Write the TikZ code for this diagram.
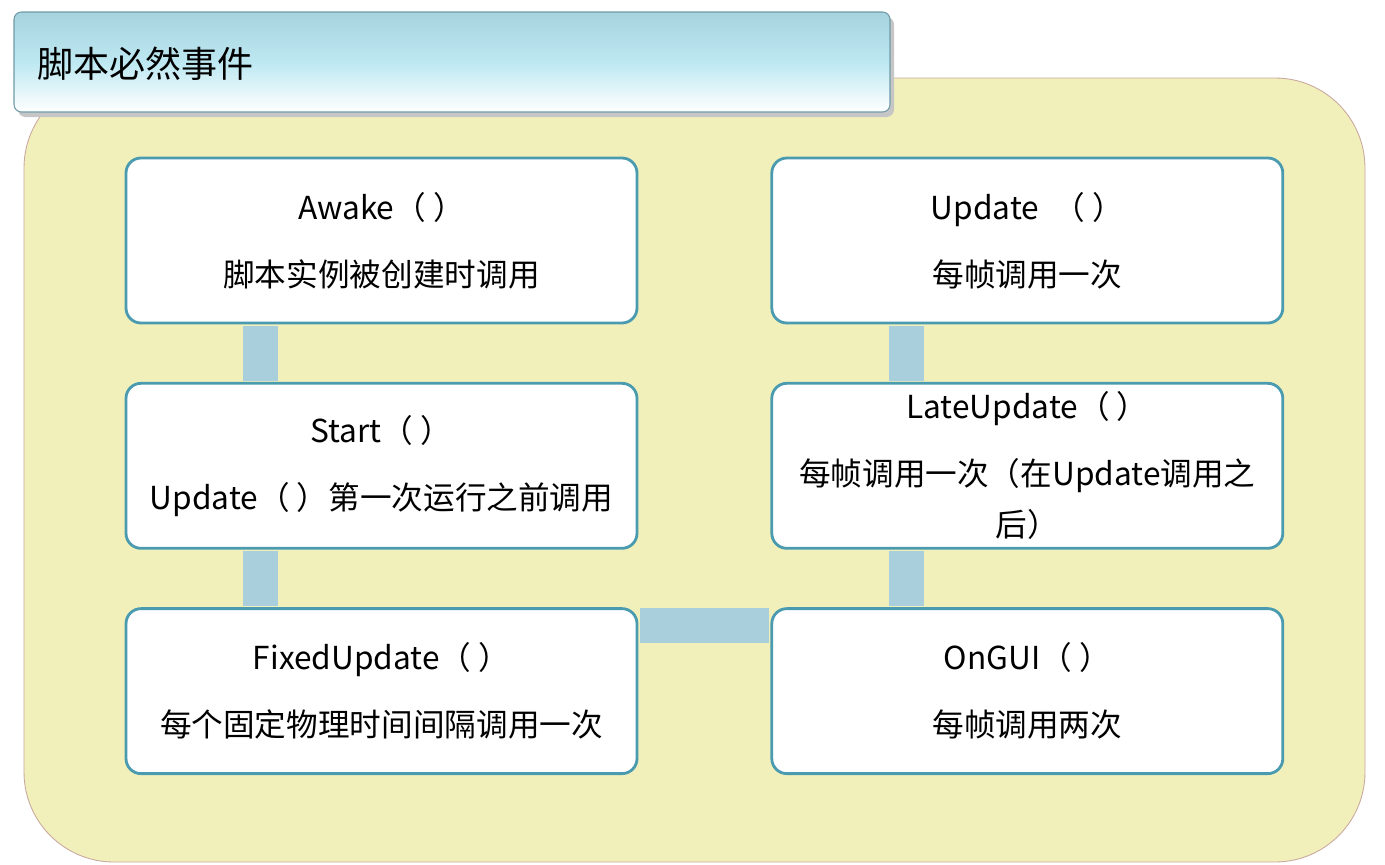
\documentclass[tikz,border=0pt]{standalone}
\usepackage{fontspec}
\setmainfont{Noto Sans CJK SC}
\usetikzlibrary{positioning}

\definecolor{panelyellow}{HTML}{F1F0BB}
\definecolor{paneledge}{HTML}{C9A9A0}
\definecolor{boxedge}{HTML}{4A9BB0}
\definecolor{linkblue}{HTML}{A9CFDC}
\definecolor{titletop}{HTML}{A6D3DE}
\definecolor{titlemid}{HTML}{BDE8F2}
\definecolor{titleedge}{HTML}{6E9AA6}

\begin{document}
\begin{tikzpicture}[
    node distance=1.15cm and 2.64cm,
    box/.style={draw=boxedge, line width=1.6pt, fill=white, rectangle, rounded corners=0.3cm, minimum width=10.22cm, minimum height=3.3cm, align=center, font=\fontsize{18}{29}\selectfont},
    link/.style={linkblue, line width=0.7cm, shorten <=0.8pt, shorten >=0.8pt}
]
\useasboundingbox (0,0) rectangle (27.7,-17.28);

% Background panel and title bar
\fill[panelyellow, draw=paneledge, line width=0.5pt, rounded corners=1.8cm] (0.48,-1.56) rectangle (27.3,-17.24);
\fill[gray!45, rounded corners=0.15cm] (0.36,-0.34) rectangle (17.88,-2.34);
\shade[top color=titletop, bottom color=white, middle color=titlemid, draw=titleedge, line width=0.6pt, rounded corners=0.15cm] (0.28,-0.24) rectangle (17.8,-2.24);
\node[anchor=west, font=\fontsize{20.5}{24}\selectfont] (title) at (0.62,-1.28) {脚本必然事件};

% Nodes
\node[box] (awake) at (7.63,-4.81) {Awake（ ）\\[9pt]脚本实例被创建时调用};
\node[box, below=of awake] (start) {Start（ ）\\[9pt]Update（ ）第一次运行之前调用};
\node[box, below=of start] (fixed) {FixedUpdate（ ）\\[9pt]每个固定物理时间间隔调用一次};
\node[box, right=of awake] (update) {Update \ （ ）\\[9pt]每帧调用一次};
\node[box, below=of update] (late) {LateUpdate（ ）\\[9pt]每帧调用一次（在Update调用之\\后）};
\node[box, below=of late] (ongui) {OnGUI（ ）\\[9pt]每帧调用两次};

% Links
\draw[link] ([xshift=-2.42cm]awake.south) -- ([xshift=-2.42cm]start.north);
\draw[link] ([xshift=-2.42cm]start.south) -- ([xshift=-2.42cm]fixed.north);
\draw[link] ([xshift=-2.42cm]update.south) -- ([xshift=-2.42cm]late.north);
\draw[link] ([xshift=-2.42cm]late.south) -- ([xshift=-2.42cm]ongui.north);
\draw[link] ([yshift=-0.36cm]fixed.north east) -- ([yshift=-0.36cm]ongui.north west);
\end{tikzpicture}
\end{document}
